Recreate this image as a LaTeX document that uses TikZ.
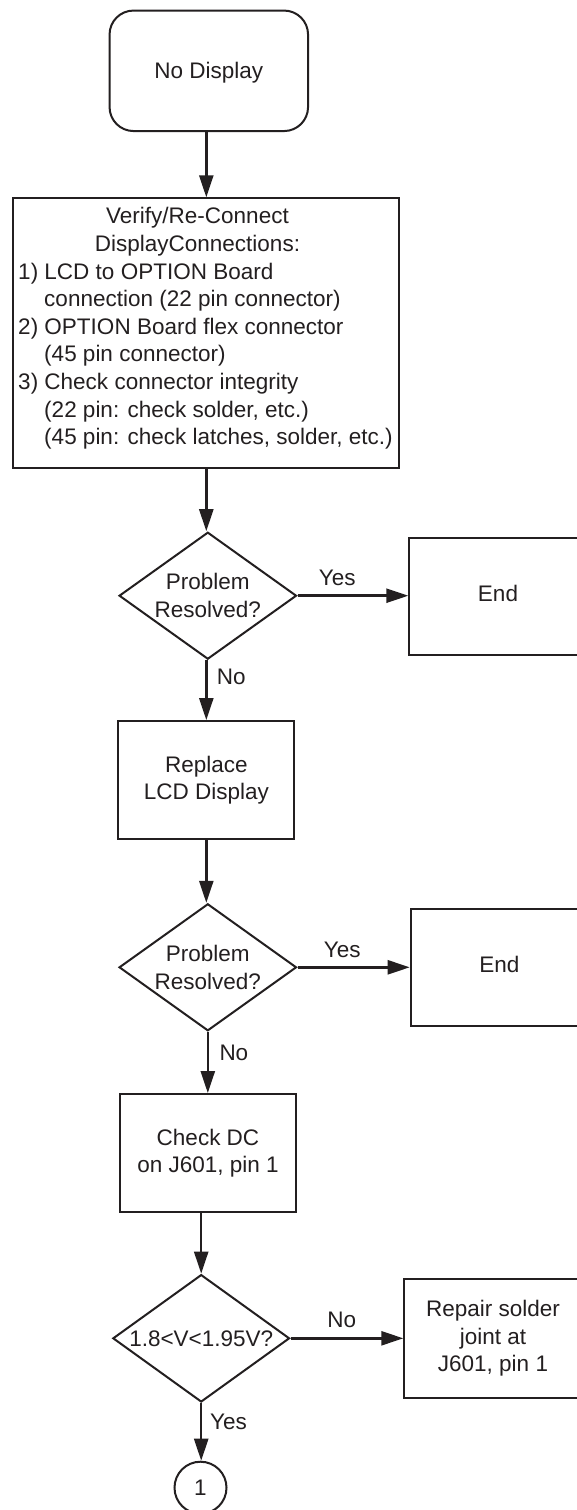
\documentclass[tikz,border=0pt]{standalone}
\usepackage{fontspec}
\setmainfont{Liberation Sans}
\usetikzlibrary{shapes.geometric,arrows.meta}
\definecolor{ink}{HTML}{231F20}
\begin{document}
\begin{tikzpicture}[x=1pt,y=-1pt,
  every node/.style={font=\fontsize{22.5}{27.6}\selectfont, text=ink},
  box/.style={draw=ink, line width=2pt, rectangle, inner sep=0pt, align=center},
  dia/.style={draw=ink, line width=2pt, diamond, aspect=1.4, inner sep=0pt,
    minimum width=177.4pt, minimum height=127pt, align=center},
  arr/.style={draw=ink, line width=2.5pt, -{Triangle[length=22pt,width=14pt]}},
  lbl/.style={inner sep=0pt, text height=16pt, text depth=0pt}]
\useasboundingbox[fill=white] (0,0) rectangle (576,1510);

% nodes
\node[box, rounded corners=24pt, minimum width=198.5pt, minimum height=120.5pt,
  text height=16pt, text depth=0pt] (start) at (208.8,70.8) {No Display};

\node[box, minimum width=386pt, minimum height=270pt] (box2) at (206.3,333.3) {};
\node[inner sep=0pt] (box2text) at (205.5,328.7) {\begin{tabular}{@{}l@{}}
\multicolumn{1}{@{}c@{}}{Verify/Re-Connect\hspace*{16pt}}\\
\multicolumn{1}{@{}c@{}}{DisplayConnections:\hspace*{16pt}}\\
1) LCD to OPTION Board\\
\hspace*{26pt}connection (22 pin connector)\\
2) OPTION Board flex connector\\
\hspace*{26pt}(45 pin connector)\\
3) Check connector integrity\\
\hspace*{26pt}(22 pin: check solder, etc.)\\
\hspace*{26pt}(45 pin: check latches, solder, etc.)
\end{tabular}};

\node[dia] (d1) at (207.8,595.7) {Problem\\Resolved?};
\node[box, minimum width=177.4pt, minimum height=117.5pt,
  text height=16pt, text depth=6.6pt] (end1) at (498,596.3) {End};

\node[box, minimum width=176pt, minimum height=118.3pt] (rep) at (206.3,780.2) {Replace\\LCD Display};

\node[dia] (d2) at (207.8,967.3) {Problem\\Resolved?};
\node[box, minimum width=177.4pt, minimum height=117pt,
  text height=16pt, text depth=7pt] (end2) at (499.4,967.5) {End};

\node[box, minimum width=176pt, minimum height=118.3pt] (chk) at (208,1153.2) {Check DC\\on J601, pin 1};

\node[dia, minimum width=176.7pt, minimum height=127.4pt] (d3) at (201.2,1338.3) {1.8<V<1.95V?};
\node[box, minimum width=177.4pt, minimum height=118.4pt] (fix) at (493,1338.5) {Repair solder\\joint at\\J601, pin 1};

\node[draw=ink, line width=2pt, circle, minimum size=52pt, inner sep=0pt,
  text height=16pt, text depth=0pt] (c1) at (200.5,1487.7) {1};

% labels
\node[lbl] (y1) at (337.3,577.7) {Yes};
\node[lbl, anchor=west] (n1) at (216.7,676.7) {No};
\node[lbl] (y2) at (342.3,949.3) {Yes};
\node[lbl, anchor=west] (n2) at (219.3,1052.3) {No};
\node[lbl] (n3) at (341.7,1319.3) {No};
\node[lbl, anchor=west] (y3) at (210,1421) {Yes};

% connectors
\draw[arr] (box2.north |- start.south) -- (box2.north);
\draw[arr] (box2.south) -- (box2.south |- d1.north);
\draw[arr] (d1.east) -- (d1.east -| end1.west);
\draw[arr] (d1.south -| rep.north) -- (rep.north);
\draw[arr] (rep.south) -- (rep.south |- d2.north);
\draw[arr] (d2.east) -- (d2.east -| end2.west);
\draw[arr] (d2.south) -- (d2.south |- chk.north);
\draw[arr] (d3.north |- chk.south) -- (d3.north);
\draw[arr] (d3.east) -- (d3.east -| fix.west);
\draw[arr] (d3.south) -- (d3.south |- c1.north);
\end{tikzpicture}
\end{document}
